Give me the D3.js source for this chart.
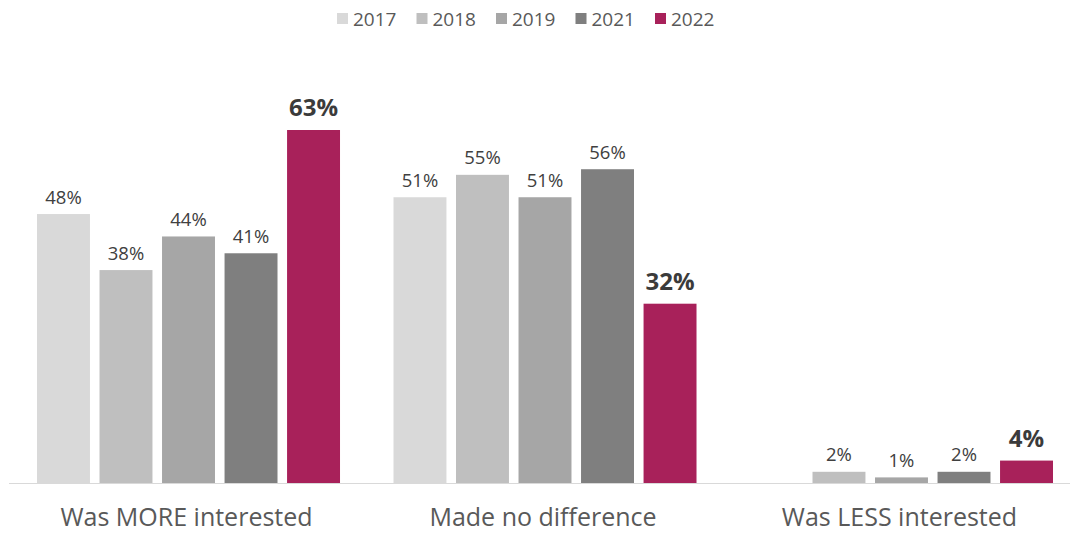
<!DOCTYPE html>
<html>
<head>
<meta charset="utf-8">
<script src="https://cdn.jsdelivr.net/npm/d3@7/dist/d3.min.js"></script>
<style>
  html, body { margin: 0; padding: 0; background: #ffffff; }
  svg { display: block; font-family: "Open Sans", "Noto Sans", sans-serif; }
</style>
</head>
<body>
<svg id="chart" width="1073" height="533"></svg>
<script>
// Survey responses by year
const categories = ["Was MORE interested", "Made no difference", "Was LESS interested"];
const years = ["2017", "2018", "2019", "2021", "2022"];
const values2017 = [48, 51, null];
const values2018 = [38, 55, 2];
const values2019 = [44, 51, 1];
const values2021 = [41, 56, 2];
const values2022 = [63, 32, 4];
const seriesColors = ["#d9d9d9", "#bfbfbf", "#a6a6a6", "#7f7f7f", "#a8215a"];

const seriesValues = [values2017, values2018, values2019, values2021, values2022];
const highlightYear = "2022";

const svg = d3.select("#chart");
const baseline = 483;

const x0 = d3.scaleBand()
  .domain(categories)
  .range([37, 1053])
  .paddingInner(0.15)
  .paddingOuter(0);

const x1 = d3.scaleBand()
  .domain(years)
  .range([0, x0.bandwidth()])
  .paddingInner(0.153)
  .paddingOuter(0);

const y = d3.scaleLinear()
  .domain([0, 63])
  .range([baseline, 130]);

const color = d3.scaleOrdinal().domain(years).range(seriesColors);

// Baseline axis
svg.append("line")
  .attr("x1", 9).attr("x2", 1070)
  .attr("y1", baseline + 0.5).attr("y2", baseline + 0.5)
  .attr("stroke", "#d9d9d9")
  .attr("stroke-width", 1);

const rows = [];
categories.forEach((cat, ci) => {
  years.forEach((yr, yi) => {
    const v = seriesValues[yi][ci];
    if (v != null) rows.push({ cat, yr, v });
  });
});

const groups = svg.append("g");

groups.selectAll("rect")
  .data(rows)
  .join("rect")
  .attr("x", d => x0(d.cat) + x1(d.yr))
  .attr("y", d => y(d.v))
  .attr("width", x1.bandwidth())
  .attr("height", d => baseline - y(d.v))
  .attr("fill", d => color(d.yr));

groups.selectAll("text.val")
  .data(rows)
  .join("text")
  .attr("class", "val")
  .attr("x", d => x0(d.cat) + x1(d.yr) + x1.bandwidth() / 2)
  .attr("y", d => y(d.v) - (d.yr === highlightYear ? 14 : 10.5))
  .attr("text-anchor", "middle")
  .attr("font-size", d => d.yr === highlightYear ? 24 : 18.5)
  .attr("font-weight", d => d.yr === highlightYear ? 700 : 400)
  .attr("fill", d => d.yr === highlightYear ? "#3b3b3b" : "#404040")
  .text(d => d.v + "%");

// Category labels
svg.append("g")
  .selectAll("text")
  .data(categories)
  .join("text")
  .attr("x", d => x0(d) + x0.bandwidth() / 2 - 2)
  .attr("y", 526)
  .attr("text-anchor", "middle")
  .attr("font-size", 25)
  .attr("fill", "#595959")
  .text(d => d);

// Legend
const legend = svg.append("g");
const legendX = d3.scalePoint().domain(years).range([337, 655]);
const item = legend.selectAll("g")
  .data(years)
  .join("g")
  .attr("transform", d => `translate(${legendX(d)},0)`);
item.append("rect")
  .attr("x", 0).attr("y", 13)
  .attr("width", 11).attr("height", 11)
  .attr("fill", d => color(d));
item.append("text")
  .attr("x", 16).attr("y", 26)
  .attr("font-size", 19)
  .attr("fill", "#595959")
  .text(d => d);
</script>
</body>
</html>
